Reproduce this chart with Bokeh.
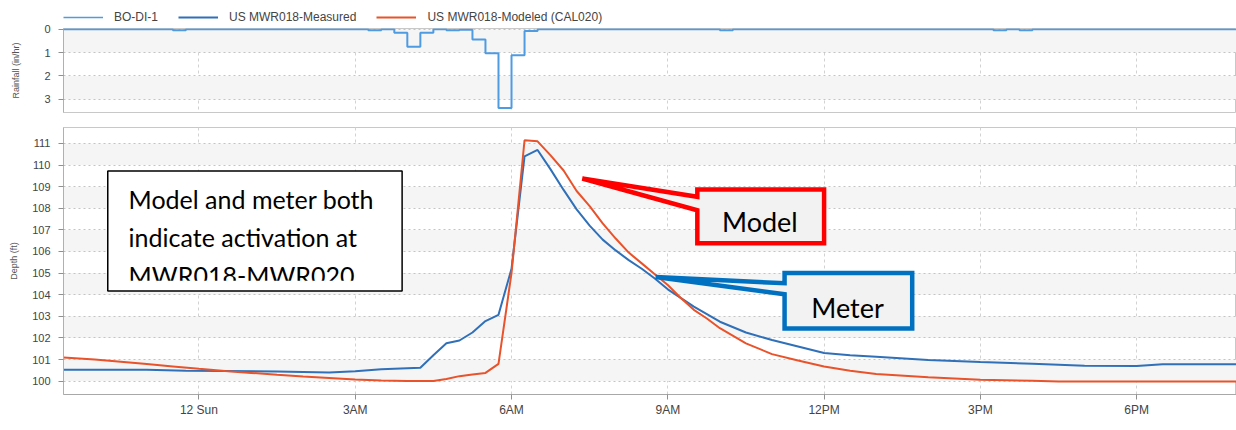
import pandas as pd
from bokeh.plotting import figure
from bokeh.layouts import column
from bokeh.models import (Range1d, FixedTicker, CustomJSTickFormatter, Legend, LegendItem, Label)
from bokeh.core.properties import value
from bokeh.embed import file_html
from bokeh.resources import INLINE

# ---------------- data ----------------
measured_time = ["2018-08-11 21:24", "2018-08-11 23:00", "2018-08-11 23:45", "2018-08-12 00:30",
                 "2018-08-12 01:30", "2018-08-12 02:30", "2018-08-12 03:00", "2018-08-12 03:30",
                 "2018-08-12 04:15", "2018-08-12 04:30", "2018-08-12 04:45", "2018-08-12 05:00",
                 "2018-08-12 05:15", "2018-08-12 05:30", "2018-08-12 05:45", "2018-08-12 06:00",
                 "2018-08-12 06:15", "2018-08-12 06:30", "2018-08-12 06:45", "2018-08-12 07:00",
                 "2018-08-12 07:15", "2018-08-12 07:30", "2018-08-12 07:45", "2018-08-12 08:00",
                 "2018-08-12 08:15", "2018-08-12 08:30", "2018-08-12 08:45", "2018-08-12 09:00",
                 "2018-08-12 09:30", "2018-08-12 10:00", "2018-08-12 10:30", "2018-08-12 11:00",
                 "2018-08-12 11:30", "2018-08-12 12:00", "2018-08-12 12:30", "2018-08-12 13:00",
                 "2018-08-12 14:00", "2018-08-12 15:00", "2018-08-12 16:00", "2018-08-12 17:00",
                 "2018-08-12 18:00", "2018-08-12 18:30", "2018-08-12 19:55"]
measured_depth = [100.53, 100.53, 100.48, 100.47,
                  100.45, 100.40, 100.46, 100.55,
                  100.62, 101.20, 101.75, 101.88,
                  102.25, 102.78, 103.07, 105.20,
                  110.40, 110.70, 109.80, 108.85,
                  107.95, 107.20, 106.55, 106.05,
                  105.60, 105.20, 104.75, 104.25,
                  103.45, 102.75, 102.25, 101.90,
                  101.60, 101.30, 101.20, 101.13,
                  100.98, 100.88, 100.80, 100.71,
                  100.70, 100.78, 100.78]

modeled_time = ["2018-08-11 21:24", "2018-08-11 22:00", "2018-08-11 22:30", "2018-08-11 23:00",
                "2018-08-11 23:30", "2018-08-12 00:00", "2018-08-12 00:30", "2018-08-12 01:00",
                "2018-08-12 01:30", "2018-08-12 02:00", "2018-08-12 02:30", "2018-08-12 03:00",
                "2018-08-12 03:30", "2018-08-12 04:00", "2018-08-12 04:30", "2018-08-12 04:45",
                "2018-08-12 05:00", "2018-08-12 05:15", "2018-08-12 05:30", "2018-08-12 05:45",
                "2018-08-12 06:00", "2018-08-12 06:15", "2018-08-12 06:30", "2018-08-12 06:45",
                "2018-08-12 07:00", "2018-08-12 07:15", "2018-08-12 07:30", "2018-08-12 07:45",
                "2018-08-12 08:00", "2018-08-12 08:15", "2018-08-12 08:30", "2018-08-12 08:45",
                "2018-08-12 09:00", "2018-08-12 09:15", "2018-08-12 09:30", "2018-08-12 09:45",
                "2018-08-12 10:00", "2018-08-12 10:30", "2018-08-12 11:00", "2018-08-12 11:30",
                "2018-08-12 12:00", "2018-08-12 12:30", "2018-08-12 13:00", "2018-08-12 14:00",
                "2018-08-12 15:00", "2018-08-12 16:00", "2018-08-12 16:30", "2018-08-12 19:55"]
modeled_depth = [101.09, 101.00, 100.90, 100.79,
                 100.68, 100.57, 100.47, 100.38,
                 100.29, 100.21, 100.14, 100.07,
                 100.03, 100.00, 100.00, 100.10,
                 100.23, 100.31, 100.38, 100.80,
                 105.00, 111.15, 111.10, 110.45,
                 109.75, 108.80, 108.10, 107.30,
                 106.60, 105.95, 105.45, 104.95,
                 104.45, 103.85, 103.30, 102.90,
                 102.45, 101.75, 101.25, 100.95,
                 100.68, 100.48, 100.33, 100.18,
                 100.06, 100.02, 99.98, 99.98]

# rainfall intensity (in/hr), 15-minute bins; all other bins are zero
rain_bin_start = ["2018-08-11 23:30", "2018-08-12 03:15", "2018-08-12 03:45", "2018-08-12 04:00",
                  "2018-08-12 04:15", "2018-08-12 04:45", "2018-08-12 05:00", "2018-08-12 05:15",
                  "2018-08-12 05:30", "2018-08-12 05:45", "2018-08-12 06:00", "2018-08-12 06:15",
                  "2018-08-12 10:00", "2018-08-12 15:15", "2018-08-12 15:45"]
rain_intensity = [0.05, 0.05, 0.15, 0.75,
                  0.15, 0.04, 0.02, 0.44,
                  1.03, 3.37, 1.11, 0.08,
                  0.04, 0.04, 0.04]

tick_times = ["2018-08-12 00:00", "2018-08-12 03:00", "2018-08-12 06:00", "2018-08-12 09:00",
              "2018-08-12 12:00", "2018-08-12 15:00", "2018-08-12 18:00"]
tick_labels = ["12 Sun", "3AM", "6AM", "9AM", "12PM", "3PM", "6PM"]

depth_ticks = [100, 101, 102, 103, 104, 105, 106, 107, 108, 109, 110, 111]
rain_ticks = [0, 1, 2, 3]

series_names = ["BO-DI-1", "US MWR018-Measured", "US MWR018-Modeled (CAL020)"]

# ---------------- styles ----------------
RAIN_C = "#4e9be2"
MEAS_C = "#2f70b8"
MOD_C = "#e8532b"
TICK_FONT = "Liberation Sans"
GRID_C = "#c4c4c4"
BAND_C = "#f5f5f5"

def ms(s):
    return pd.Timestamp(s).value / 1e6

x_start = pd.Timestamp("2018-08-11 21:24")
x_end = pd.Timestamp("2018-08-12 19:55")
x_range = Range1d(x_start, x_end)
tick_ms = [ms(t) for t in tick_times]

edges = pd.date_range("2018-08-11 21:15", "2018-08-12 20:00", freq="15min")
rain_lookup = dict(zip(pd.to_datetime(rain_bin_start), rain_intensity))
rain_vals = [rain_lookup.get(t, 0.0) for t in edges]

def style_common(p):
    p.background_fill_color = "white"
    p.border_fill_color = "white"
    p.outline_line_color = "#c8c8c8"
    for ax in p.yaxis:
        ax.major_label_text_font = TICK_FONT
        ax.major_label_text_font_size = "11px"
        ax.major_label_text_color = "#444444"
        ax.axis_label_text_font = TICK_FONT
        ax.axis_label_text_font_style = "normal"
        ax.axis_label_text_color = "#555555"
        ax.axis_line_color = "#b0b0b0"
        ax.major_tick_line_color = "#909090"
        ax.major_tick_out = 5
        ax.major_tick_in = 0
        ax.minor_tick_line_color = None
        ax.major_label_standoff = 8
    p.ygrid.grid_line_color = GRID_C
    p.ygrid.grid_line_dash = "2 3"
    p.ygrid.band_fill_color = BAND_C
    p.ygrid.band_fill_alpha = 1
    p.xgrid.grid_line_color = "#d2d2d2"
    p.xgrid.grid_line_dash = "3 3"

# ---------------- legend strip (series drawn out of view, only their keys show) ----------------
p0 = figure(width=1236, height=24, x_range=x_range, y_range=Range1d(1000, 1001),
            x_axis_type="datetime", output_backend="svg", toolbar_location=None,
            min_border_left=0, min_border_right=0, min_border_top=0, min_border_bottom=0)
p0.axis.visible = False
p0.grid.visible = False
p0.outline_line_color = None
p0.background_fill_color = "white"
p0.border_fill_color = "white"
k_rain = p0.step(edges, rain_vals, mode="after", line_color=RAIN_C, line_width=1.6)
k_meas = p0.line(pd.to_datetime(measured_time), measured_depth, line_color=MEAS_C, line_width=2)
k_mod = p0.line(pd.to_datetime(modeled_time), modeled_depth, line_color=MOD_C, line_width=2)
legend = Legend(items=[LegendItem(label=series_names[0], renderers=[k_rain]),
                       LegendItem(label=series_names[1], renderers=[k_meas]),
                       LegendItem(label=series_names[2], renderers=[k_mod])],
                orientation="horizontal", location=(0, 0),
                label_text_font=TICK_FONT, label_text_font_size="12px", label_text_color="#444444",
                glyph_width=40, glyph_height=12, label_standoff=11, spacing=20,
                padding=0, margin=0, border_line_color=None, background_fill_alpha=0,
                label_height=12)
p0.add_layout(legend, "center")

# ---------------- rainfall panel ----------------
p1 = figure(width=1236, height=94, x_range=x_range, y_range=Range1d(3.56, -0.03),
            x_axis_type="datetime", output_backend="svg", toolbar_location=None,
            min_border_left=63, min_border_right=0, min_border_top=4, min_border_bottom=6)
p1.xaxis.ticker = FixedTicker(ticks=tick_ms)
p1.xaxis.visible = False
p1.yaxis.ticker = FixedTicker(ticks=rain_ticks)
p1.yaxis.axis_label = "Rainfall (in/hr)"
p1.yaxis.axis_label_text_font_size = "9px"
p1.yaxis.axis_label_standoff = 20
style_common(p1)
p1.step(edges, rain_vals, mode="after", line_color=RAIN_C, line_width=2)

# ---------------- depth panel ----------------
p2 = figure(width=1236, height=312, x_range=x_range, y_range=Range1d(99.38, 111.74),
            x_axis_type="datetime", output_backend="svg", toolbar_location=None,
            min_border_left=63, min_border_right=0, min_border_top=9, min_border_bottom=36)
p2.xaxis.ticker = FixedTicker(ticks=tick_ms)
p2.xaxis.formatter = CustomJSTickFormatter(args=dict(tvals=tick_ms, tlabels=tick_labels), code="""
    const i = tvals.indexOf(tick);
    return i >= 0 ? tlabels[i] : "";
""")
p2.xaxis.major_label_text_font = TICK_FONT
p2.xaxis.major_label_text_font_size = "12px"
p2.xaxis.major_label_text_color = "#444444"
p2.xaxis.major_label_standoff = 3
p2.xaxis.axis_line_color = "#a8a8a8"
p2.xaxis.major_tick_line_color = "#909090"
p2.xaxis.major_tick_out = 5
p2.xaxis.major_tick_in = 0
p2.xaxis.minor_tick_line_color = None
p2.yaxis.ticker = FixedTicker(ticks=depth_ticks)
p2.yaxis.axis_label = "Depth (ft)"
p2.yaxis.axis_label_text_font_size = "9px"
p2.yaxis.axis_label_standoff = 10
style_common(p2)

p2.line(pd.to_datetime(measured_time), measured_depth, line_color=MEAS_C, line_width=2)
p2.line(pd.to_datetime(modeled_time), modeled_depth, line_color=MOD_C, line_width=2)

p2.add_layout(Label(x=-61, y=-30, x_units="screen", y_units="screen", text="Aug 2018",
                    text_font=TICK_FONT, text_font_size="11px", text_color="#444444",
                    text_baseline="middle"))
p2.add_layout(Label(x=587, y=-30, x_units="screen", y_units="screen", text="Date/Time",
                    text_font=TICK_FONT, text_font_size="11px", text_color="#555555",
                    text_baseline="middle", text_align="center"))

# ---------------- annotations (PowerPoint-style callouts) ----------------
T = pd.Timestamp
box_l, box_r = T("2018-08-11 22:15"), T("2018-08-12 03:54")
box_t, box_b = 109.73, 104.17
p2.quad(left=[box_l], right=[box_r], top=[box_t], bottom=[box_b],
        fill_color="white", line_color=None)
note_lines = ["Model and meter both", "indicate activation at", "MWR018-MWR020"]
note_base = [108.42, 106.66, 104.90]
p2.text(x=[T("2018-08-11 22:39")] * 3, y=note_base, text=note_lines,
        text_font=value("Lato"), text_font_size="25px", text_color="black",
        text_baseline="alphabetic", text_align="left")
p2.quad(left=[T("2018-08-11 22:16")], right=[T("2018-08-12 03:53")], top=[104.64], bottom=[box_b],
        fill_color="white", line_color=None)
p2.quad(left=[box_l], right=[box_r], top=[box_t], bottom=[box_b],
        fill_color=None, line_color="black", line_width=1.5)

model_x = [T("2018-08-12 07:21:30"), T("2018-08-12 09:34"), T("2018-08-12 09:34"),
           T("2018-08-12 12:00"), T("2018-08-12 12:00"), T("2018-08-12 09:34"), T("2018-08-12 09:34")]
model_y = [109.38, 108.53, 108.87, 108.87, 106.38, 106.38, 107.91]
p2.patch(model_x, model_y, fill_color="#f2f2f2", line_color="#ff0000", line_width=4.5,
         line_join="miter")
p2.text(x=[T("2018-08-12 10:46")], y=[107.40], text=["Model"], text_font=value("Lato"),
        text_font_size="27px", text_color="black", text_align="center", text_baseline="alphabetic")

meter_x = [T("2018-08-12 08:46"), T("2018-08-12 11:14:30"), T("2018-08-12 11:14:30"),
           T("2018-08-12 13:41:30"), T("2018-08-12 13:41:30"), T("2018-08-12 11:14:30"),
           T("2018-08-12 11:14:30")]
meter_y = [104.82, 104.53, 105.01, 105.01, 102.44, 102.44, 104.02]
p2.patch(meter_x, meter_y, fill_color="#f2f2f2", line_color="#0070c0", line_width=4.5,
         line_join="miter")
p2.text(x=[T("2018-08-12 12:27")], y=[103.41], text=["Meter"], text_font=value("Lato"),
        text_font_size="27px", text_color="black", text_align="center", text_baseline="alphabetic")

layout = column(p0, p1, p2, spacing=0)
open("out.html", "w").write(file_html(layout, INLINE))
